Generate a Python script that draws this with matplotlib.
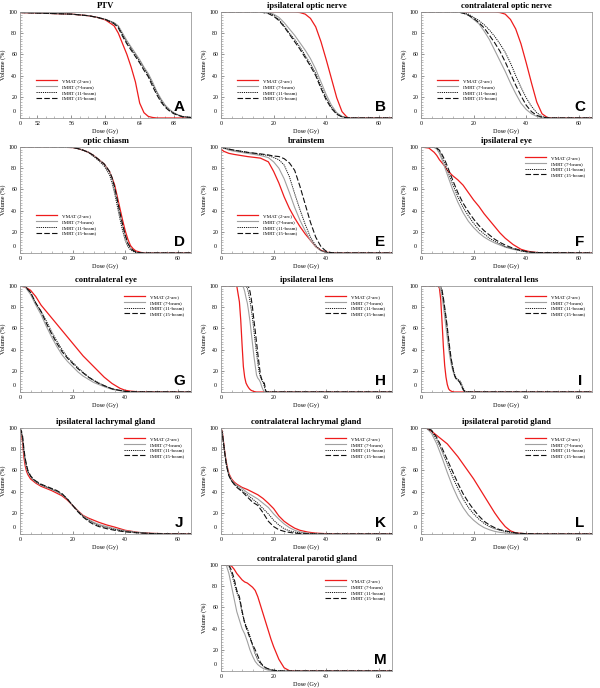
import matplotlib
matplotlib.use('Agg')
import matplotlib.pyplot as plt
from matplotlib.ticker import MultipleLocator

plt.rcParams['font.family'] = ['Liberation Serif', 'DejaVu Serif']

# ---------------- data ----------------
series_names = ['VMAT (2-arc)', 'IMRT (7-beam)', 'IMRT (11-beam)', 'IMRT (15-beam)']

# A: PTV
A_dose = [50, 52, 54, 56, 58, 59, 60, 61, 61.5, 62, 62.5, 63, 63.5, 64, 64.5, 65, 65.5, 66, 66.5, 67, 67.5, 68, 68.5, 69, 70]
A_vmat = [99.5, 99, 98.5, 98, 96.5, 95, 92.5, 87, 80, 70, 60, 48, 34, 14, 5, 1.5, 0.5, 0, 0, 0, 0, 0, 0, 0, 0]
A_b7 = [99.5, 99, 98.5, 98, 96.5, 95, 93, 90, 87, 80, 73, 67, 61, 55, 48, 42, 34, 25, 18, 12, 8, 5, 3, 1.5, 0.5]
A_b11 = [99.5, 99, 98.5, 98, 96.5, 95, 93, 89.5, 86, 78.5, 71.5, 65.5, 59.5, 53.5, 46.5, 40.5, 32, 23.5, 16.5, 11, 7, 4.5, 2.7, 1.3, 0.5]
A_b15 = [99.5, 99, 98.5, 98, 96.5, 95, 93, 89, 85, 77, 70, 64, 58, 52, 45, 39, 30, 22, 15, 10, 6.5, 4, 2.5, 1.2, 0.5]

# B: ipsilateral optic nerve
B_dose = [0, 10, 15, 18, 20, 22, 24, 26, 28, 30, 32, 34, 36, 38, 40, 42, 44, 46, 48, 50, 65]
B_vmat = [100, 100, 100, 100, 100, 100, 100, 100, 100, 99.5, 98, 94, 86, 72, 55, 37, 19, 6, 0.5, 0, 0]
B_b7 = [100, 100, 100, 99.5, 98, 95, 90, 84, 78, 71, 64, 56, 46, 34, 22, 12, 5, 1.5, 0.3, 0, 0]
B_b11 = [100, 100, 100, 99, 97, 93, 87, 80, 74, 67, 59, 51, 42, 30, 19, 10, 4, 1.2, 0.2, 0, 0]
B_b15 = [100, 100, 100, 98.5, 96, 92, 86, 79, 72, 65, 57, 49, 40, 28, 17, 9, 3.5, 1, 0.2, 0, 0]

# C: contralateral optic nerve
C_dose = [0, 10, 14, 16, 18, 20, 22, 24, 26, 28, 30, 32, 34, 36, 38, 40, 42, 44, 46, 48, 50, 65]
C_vmat = [100, 100, 100, 100, 100, 100, 100, 100, 100, 100, 99.5, 98, 93, 84, 70, 52, 33, 15, 4, 0.5, 0, 0]
C_b7 = [100, 100, 100, 99, 97, 93, 89, 82, 74, 64, 54, 44, 33, 23, 14, 8, 4, 1.5, 0.4, 0, 0, 0]
C_b11 = [100, 100, 100, 99, 98, 95, 92, 88, 83, 77, 70, 62, 52, 40, 29, 19, 11, 5, 1.5, 0.3, 0, 0]
C_b15 = [100, 100, 100, 99, 97, 94, 90, 85, 78, 71, 63, 53, 42, 31, 21, 12, 6, 2.5, 0.7, 0.1, 0, 0]

# D: optic chiasm
D_dose = [0, 10, 15, 20, 22, 24, 26, 28, 30, 32, 34, 35, 36, 37, 38, 39, 40, 41, 42, 43, 44, 46, 48, 65]
D_vmat = [100, 100, 99.8, 99.5, 98.5, 97, 95, 92, 88, 84, 77, 71, 64, 53, 42, 31, 21, 13, 7, 4, 2, 0.5, 0, 0]
D_b7 = [100, 100, 99.8, 99.5, 98.5, 97, 95, 92, 88, 84, 77, 70, 60, 49, 37, 26, 16, 9, 4.5, 2, 0.8, 0.1, 0, 0]
D_b11 = [100, 100, 99.8, 99.5, 98.5, 97, 95, 91, 87, 82, 74, 66, 56, 44, 32, 21, 12, 6, 3, 1.5, 0.5, 0, 0, 0]
D_b15 = [100, 100, 99.8, 99.5, 98.5, 97, 95, 92, 88, 84, 77, 71, 62, 50, 38, 27, 17, 9, 5, 2.5, 1, 0.2, 0, 0]

# E: brainstem
E_dose = [0, 1, 3, 5, 10, 15, 18, 20, 22, 24, 26, 28, 30, 32, 34, 36, 38, 40, 42, 44, 65]
E_vmat = [98, 96, 94, 93, 91, 89.5, 86, 77, 66, 53, 42, 33, 25, 18, 12, 6, 2.5, 0.8, 0.2, 0, 0]
E_b7 = [100, 99, 97, 96, 94, 92, 90, 86, 80, 70, 57, 43, 31, 21, 12, 6, 2, 0.5, 0.1, 0, 0]
E_b11 = [100, 99, 98, 97, 95, 93, 92, 90, 88, 83, 72, 56, 41, 27, 15, 7, 2.5, 0.6, 0.1, 0, 0]
E_b15 = [100, 99.5, 98, 97, 95, 93.5, 92.5, 91.5, 91, 89, 85, 78, 63, 46, 29, 15, 6, 1.5, 0.3, 0, 0]

# F: ipsilateral eye
F_dose = [0, 3, 5, 6, 7, 8, 9, 10, 12, 14, 16, 18, 20, 22, 24, 26, 28, 30, 32, 35, 38, 40, 42, 45, 65]
F_vmat = [100, 99, 95, 92, 88, 85, 82, 78, 73, 69, 64, 57, 50, 44, 37, 31, 25, 19, 14, 8, 3.5, 2, 1, 0.3, 0]
F_b7 = [100, 100, 99.5, 98, 94, 88, 81, 74, 60, 48, 38, 30, 24, 19, 15, 12, 9.5, 7.5, 5.5, 3.5, 2, 1, 0.5, 0.2, 0]
F_b11 = [100, 100, 100, 99, 96, 91, 85, 78, 65, 53, 43, 35, 28, 22, 18, 14, 11, 8.5, 6, 4, 2, 1.2, 0.6, 0.2, 0]
F_b15 = [100, 100, 100, 99, 97, 93, 88, 82, 69, 57, 47, 39, 32, 26, 21, 17, 13, 10, 7.5, 4.5, 2.5, 1.5, 0.8, 0.3, 0]

# G: contralateral eye
G_dose = [0, 2, 4, 5, 6, 8, 10, 12, 14, 16, 18, 20, 22, 24, 26, 28, 30, 32, 35, 38, 40, 42, 45, 65]
G_vmat = [100, 99, 96, 93, 90, 82, 76, 70, 64, 58, 52, 46, 40, 34, 29, 24, 19, 14, 8, 3.5, 1.6, 0.8, 0.2, 0]
G_b7 = [100, 99, 92, 87, 82, 73, 62, 52, 43, 35, 29, 24, 19, 15, 12, 9, 7, 5, 2.5, 1.2, 0.5, 0.2, 0, 0]
G_b11 = [100, 99.5, 94, 89, 84, 76, 67, 57, 48, 40, 33, 28, 23, 18.5, 14.5, 11, 8.5, 6, 3, 1.5, 0.6, 0.3, 0.1, 0]
G_b15 = [100, 99.5, 94, 89, 84, 76, 65, 55, 46, 38, 32, 27, 22, 18, 14, 11, 8, 6, 3, 1.5, 0.6, 0.3, 0.1, 0]

# H: ipsilateral lens
H_dose = [0, 6, 7, 7.5, 8, 8.5, 9, 9.5, 10, 10.5, 11, 11.5, 12, 12.5, 13, 13.5, 14, 14.5, 15, 15.5, 16, 16.5, 17, 17.5, 18, 65]
H_vmat = [100, 100, 85, 68, 45, 24, 14, 8.5, 6, 4, 2.5, 1.5, 1, 0.5, 0.2, 0, 0, 0, 0, 0, 0, 0, 0, 0, 0, 0]
H_b7 = [100, 100, 100, 100, 100, 99, 95, 89, 84, 76, 67, 56, 45, 34, 25, 16, 13, 11.5, 9, 5, 2, 0.5, 0, 0, 0, 0]
H_b11 = [100, 100, 100, 100, 100, 100, 100, 100, 98, 93, 86, 78, 69, 58, 47, 37, 27, 19, 14, 11, 9, 5, 1, 0, 0, 0]
H_b15 = [100, 100, 100, 100, 100, 100, 100, 100, 100, 99, 95, 88, 79, 68, 58, 47, 36, 26, 16, 12, 10, 8, 1, 0, 0, 0]

# I: contralateral lens
I_dose = [0, 6.5, 7, 7.5, 8, 8.5, 9, 9.5, 10, 10.5, 11, 11.5, 12, 12.5, 13, 13.5, 14, 14.5, 15, 15.5, 16, 16.5, 17, 17.5, 65]
I_vmat = [100, 100, 98, 87, 66, 43, 25, 14, 7, 3, 1.5, 0.8, 0.3, 0, 0, 0, 0, 0, 0, 0, 0, 0, 0, 0, 0]
I_b7 = [100, 100, 99, 96, 90, 81, 71, 61, 51, 41, 33, 26, 21, 17, 14, 12, 11, 10, 8, 5, 2, 0.5, 0, 0, 0]
I_b11 = [100, 100, 100, 100, 95, 87, 78, 69, 59, 48, 38, 30, 24, 19, 15, 13, 12, 11, 10, 7, 4, 1.5, 0.3, 0, 0]
I_b15 = [100, 100, 100, 100, 96, 89, 80, 71, 61, 50, 40, 31, 24, 18, 14, 12, 11, 10, 8, 5, 2.5, 0.8, 0, 0, 0]

# J: ipsilateral lachrymal gland
J_dose = [0, 0.5, 1, 1.5, 2, 2.5, 3, 4, 5, 6, 8, 10, 12, 14, 16, 18, 20, 22, 24, 26, 28, 30, 33, 36, 40, 45, 50, 55, 60, 65]
J_vmat = [100, 95, 86, 72, 64, 59, 56, 52, 50, 48, 45, 43, 41, 38.5, 36, 32, 27, 22, 17.5, 15, 13, 11, 8.5, 6.5, 3.5, 1.5, 0.6, 0.3, 0.1, 0]
J_b7 = [100, 96, 89, 77, 68, 62, 58, 54, 51, 49, 46, 44, 42, 40, 37, 33, 27, 22, 17, 14, 11, 9, 7, 5, 3, 1.5, 0.6, 0.2, 0, 0]
J_b11 = [100, 96.5, 90, 78, 70, 64, 59, 54.5, 51.5, 49.5, 46.5, 44.5, 42.5, 40.5, 37.5, 33, 27, 21.5, 16.5, 13, 10, 8, 6, 4.2, 2.5, 1.2, 0.5, 0.1, 0, 0]
J_b15 = [100, 97, 92, 80, 71, 65, 60, 55, 52, 50, 47, 45, 43, 41, 38, 33, 27, 21, 16, 12, 9, 7, 5, 3.5, 2, 1, 0.4, 0.1, 0, 0]

# K: contralateral lachrymal gland
K_dose = [0, 0.5, 1, 1.5, 2, 2.5, 3, 4, 5, 6, 8, 10, 12, 14, 16, 18, 20, 22, 24, 26, 28, 30, 33, 36, 40, 45, 65]
K_vmat = [100, 96, 86, 76, 68, 62, 57, 52, 49, 47, 44, 42, 39.5, 37, 33.5, 29, 24, 17, 12, 8.5, 5.5, 3.5, 1.8, 0.8, 0.3, 0, 0]
K_b7 = [100, 95, 85, 75, 67, 61, 56, 51, 48, 46, 43, 39, 36, 33, 29, 25, 19, 14, 9.5, 6, 3.5, 2, 0.8, 0.3, 0, 0, 0]
K_b11 = [100, 95, 85, 75, 66, 60, 55, 50, 47, 45, 41, 37, 33, 29, 24, 19, 13, 8.5, 5, 3, 1.8, 1, 0.4, 0.1, 0, 0, 0]
K_b15 = [100, 95, 85, 75, 66, 60, 55, 50, 47, 44, 40, 35, 30, 27, 20, 12, 7, 4, 2.5, 1.5, 0.8, 0.5, 0.2, 0, 0, 0, 0]

# L: ipsilateral parotid gland
L_dose = [0, 2, 4, 6, 8, 10, 12, 14, 16, 18, 20, 22, 24, 26, 28, 30, 32, 34, 36, 40, 45, 65]
L_vmat = [100, 100, 97, 93, 89, 85, 79, 73, 66, 59, 52, 44, 36, 28, 20, 13, 7, 3, 1, 0.2, 0, 0]
L_b7 = [100, 100, 95, 85, 72, 58, 45, 34, 25, 18, 13, 9, 6, 4, 2.5, 1.5, 1, 0.5, 0.2, 0, 0, 0]
L_b11 = [100, 100, 97, 89, 78, 66, 54, 43, 33, 25, 19, 14, 10, 7, 5, 3.5, 2.5, 1.5, 0.8, 0.2, 0, 0]
L_b15 = [100, 100, 98, 91, 81, 70, 59, 48, 38, 30, 23, 17, 12, 8.5, 6, 4, 3, 2, 1, 0.3, 0, 0]

# M: contralateral parotid gland
M_dose = [0, 1, 2, 3, 4, 5, 6, 7, 8, 9, 10, 11, 12, 13, 14, 15, 16, 17, 18, 19, 20, 22, 24, 26, 28, 30, 65]
M_vmat = [100, 100, 100, 100, 99, 96, 92, 89, 86, 84, 83, 81, 79, 76, 70, 62, 54, 46, 38, 30, 23, 11, 3, 0.3, 0, 0, 0]
M_b7 = [100, 100, 100, 92, 80, 68, 56, 48, 40, 35, 28, 20, 14, 9, 6, 4, 2.5, 1.5, 0.8, 0.4, 0.2, 0, 0, 0, 0, 0, 0]
M_b11 = [100, 100, 100, 99, 92, 83, 74, 68, 55, 46, 40, 33, 24, 16, 10, 7, 4.5, 3, 2, 1.2, 0.7, 0.2, 0, 0, 0, 0, 0]
M_b15 = [100, 100, 100, 100, 95, 87, 76, 70, 57, 45, 38, 31, 25, 20, 14, 8, 5, 3, 2, 1.2, 0.7, 0.2, 0, 0, 0, 0, 0]

titles = ['PTV', 'ipsilateral optic nerve', 'contralateral optic nerve', 'optic chiasm', 'brainstem',
          'ipsilateral eye', 'contralateral eye', 'ipsilateral lens', 'contralateral lens',
          'ipsilateral lachrymal gland', 'contralateral lachrymal gland', 'ipsilateral parotid gland',
          'contralateral parotid gland']
letters = ['A', 'B', 'C', 'D', 'E', 'F', 'G', 'H', 'I', 'J', 'K', 'L', 'M']

panel_data = [
    (A_dose, [A_vmat, A_b7, A_b11, A_b15]),
    (B_dose, [B_vmat, B_b7, B_b11, B_b15]),
    (C_dose, [C_vmat, C_b7, C_b11, C_b15]),
    (D_dose, [D_vmat, D_b7, D_b11, D_b15]),
    (E_dose, [E_vmat, E_b7, E_b11, E_b15]),
    (F_dose, [F_vmat, F_b7, F_b11, F_b15]),
    (G_dose, [G_vmat, G_b7, G_b11, G_b15]),
    (H_dose, [H_vmat, H_b7, H_b11, H_b15]),
    (I_dose, [I_vmat, I_b7, I_b11, I_b15]),
    (J_dose, [J_vmat, J_b7, J_b11, J_b15]),
    (K_dose, [K_vmat, K_b7, K_b11, K_b15]),
    (L_dose, [L_vmat, L_b7, L_b11, L_b15]),
    (M_dose, [M_vmat, M_b7, M_b11, M_b15]),
]

# ---------------- styling / layout ----------------
W, H = 600, 688
fig = plt.figure(figsize=(W / 100, H / 100), dpi=100)

styles = [
    dict(color='#ee1c1c', lw=0.9, ls='-'),
    dict(color='#a0a0a0', lw=0.8, ls='-'),
    dict(color='#111111', lw=0.7, ls=(0, (1.2, 1.0))),
    dict(color='#111111', lw=0.8, ls=(0, (5, 2))),
]

col_left = [20, 221, 421]
row_top = [12, 147, 286, 428, 565]
ax_w, ax_h = 171, 106
positions = [(r, c) for r in range(4) for c in range(3)] + [(4, 1)]

tick_fs = 4.2
for i, (dose, vols) in enumerate(panel_data):
    r, c = positions[i]
    left = col_left[c] / W
    bottom = 1 - (row_top[r] + ax_h) / H
    ax = fig.add_axes([left, bottom, ax_w / W, ax_h / H])
    for v, st, name in zip(vols, styles, series_names):
        ax.plot(dose, v, label=name, **st)
    if i == 0:
        ax.set_xlim(50, 70)
        ax.set_xticks([50, 52, 56, 60, 64, 68])
        ax.set_xticklabels(['0', '52', '56', '60', '64', '68'])
        ax.xaxis.set_minor_locator(MultipleLocator(1))
    else:
        ax.set_xlim(0, 65)
        ax.set_xticks([0, 20, 40, 60])
        ax.xaxis.set_minor_locator(MultipleLocator(4))
    ax.set_ylim(0, 100)
    ax.set_yticks([0, 20, 40, 60, 80, 100])
    ax.set_yticklabels(['', '20', '40', '60', '80', '100'])
    ax.yaxis.set_minor_locator(MultipleLocator(2.5))
    ax.annotate('0', xy=(0, 0), xycoords=('axes fraction', 'data'), xytext=(-3.2, 4.5),
                textcoords='offset points', ha='right', va='center', fontsize=tick_fs)
    ax.tick_params(which='major', direction='in', length=2.5, width=0.5, labelsize=tick_fs, pad=2, color='#666666')
    ax.tick_params(which='minor', direction='in', length=1.2, width=0.4, color='#888888')
    for sp in ax.spines.values():
        sp.set_color('#9a9a9a')
        sp.set_linewidth(0.6)
    ax.set_xlabel('Dose (Gy)', fontsize=4.5, labelpad=2)
    ax.set_ylabel('Volume (%)', fontsize=4.5, labelpad=2)
    ax.set_title(titles[i], fontsize=6.2, fontweight='bold', pad=3)
    ax.text(0.93, 0.1, letters[i], transform=ax.transAxes, ha='center', va='center',
            fontsize=11, fontweight='bold', family=['Liberation Sans', 'DejaVu Sans'])
    if i <= 4:
        anchor = (0.09, 0.38)
    elif i == 12:
        anchor = (0.6, 0.88)
    else:
        anchor = (0.6, 0.93)
    ax.legend(loc='upper left', bbox_to_anchor=anchor, frameon=False, fontsize=3.6,
              handlelength=4.2, handletextpad=1.0, labelspacing=0.25, borderpad=0.2, borderaxespad=0)

fig.savefig('out.png', dpi=100)
